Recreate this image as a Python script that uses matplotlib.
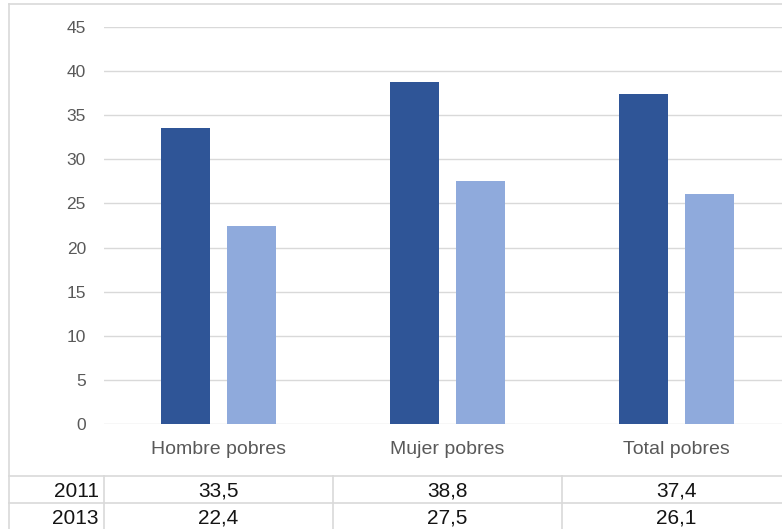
import numpy as np
import matplotlib
matplotlib.use("Agg")
from matplotlib import pyplot as plt
from matplotlib.lines import Line2D

plt.rcParams['font.family'] = ['Liberation Sans', 'DejaVu Sans']

categorias = ['Hombre pobres', 'Mujer pobres', 'Total pobres']
anios = ['2011', '2013']
v2011 = [33.5, 38.8, 37.4]
v2013 = [22.4, 27.5, 26.1]
colores = ['#2F5597', '#8FAADC']
yticks = np.arange(0, 50, 5)

W, H = 782, 529
fig = plt.figure(figsize=(W / 100, H / 100), dpi=100)

def caja(x0, y0, x1, y1):
    # pixeles (origen arriba a la izquierda) -> coordenadas de figura
    return [x0 / W, 1 - y1 / H, (x1 - x0) / W, (y1 - y0) / H]

# borde exterior del grafico
fig.add_artist(Line2D([9 / W, 9 / W], [0, 1 - 4 / H], color='#d9d9d9', lw=1.2))
fig.add_artist(Line2D([9 / W, 1], [1 - 4 / H, 1 - 4 / H], color='#d9d9d9', lw=1.2))

ax = fig.add_axes(caja(104, 27, 791, 424))
x = np.arange(len(categorias))
ancho = 0.218
ax.bar(x - 0.144, v2011, ancho, color=colores[0], zorder=3)
ax.bar(x + 0.144, v2013, ancho, color=colores[1], zorder=3)

ax.set_xlim(-0.5, 2.5)
ax.set_ylim(0, 45)
ax.set_yticks(yticks)
ax.yaxis.grid(True, color='#d9d9d9', lw=1.0)
ax.set_axisbelow(True)
for s in ax.spines.values():
    s.set_visible(False)
ax.tick_params(axis='y', length=0, pad=13, labelsize=12.5, labelcolor='#595959')
ax.set_xticks(x)
ax.set_xticklabels(categorias)
ax.tick_params(axis='x', length=0, pad=12, labelsize=14, labelcolor='#595959')

# tabla de datos debajo del eje
tax = fig.add_axes(caja(104, 476, 791, 530))
tax.set_xlim(-0.5, 2.5)
tax.set_ylim(2, 0)
tax.axis('off')
xl = (9 - 104) / 229 - 0.5
for yy in [0, 1, 2]:
    tax.plot([xl, 2.5], [yy, yy], color='#d9d9d9', lw=1.2, clip_on=False)
for xx in [-0.5, 0.5, 1.5, 2.5]:
    tax.plot([xx, xx], [0, 2], color='#d9d9d9', lw=1.2, clip_on=False)

filas = [v2011, v2013]
for i, (anio, vals) in enumerate(zip(anios, filas)):
    tax.text(-0.522, i + 0.57, anio, ha='right', va='center', fontsize=15,
             color='#141414', clip_on=False)
    for j, v in enumerate(vals):
        tax.text(j, i + 0.57, f'{v:.1f}'.replace('.', ','), ha='center', va='center',
                 fontsize=15, color='#141414')

fig.savefig('out.png', dpi=100)
